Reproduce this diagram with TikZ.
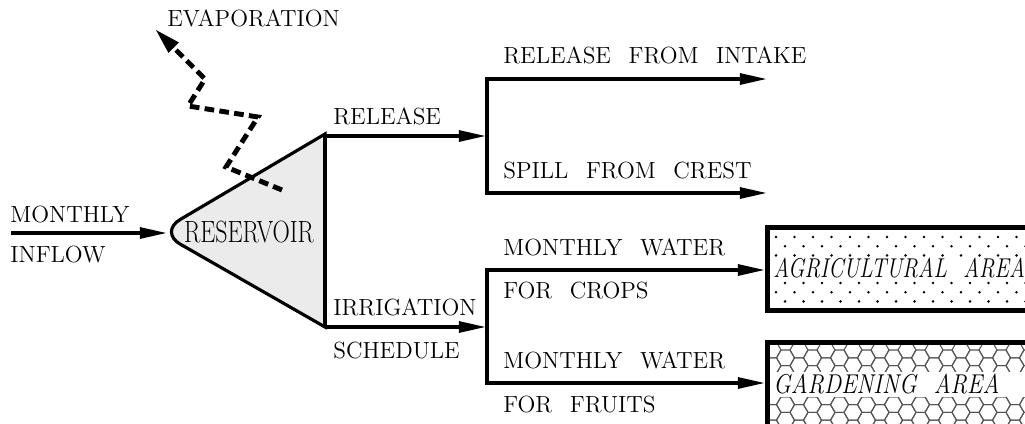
\documentclass[tikz,border=0pt]{standalone}
\usepackage{tikz}
\usetikzlibrary{arrows.meta}
\definecolor{resFill}{RGB}{235,235,235}
\definecolor{hexGray}{RGB}{85,85,85}
\newcommand{\wgap}{\hspace{0.75em}}

\begin{document}
\begin{tikzpicture}[x=0.02cm,y=-0.02cm,
  flow/.style={line width=2.4pt,-{Triangle[length=16pt,width=6pt]}},
  fork/.style={line width=2.4pt,{Triangle[length=16pt,width=6pt]}-{Triangle[length=16pt,width=6pt]}},
  vapor/.style={line width=2.8pt,dash pattern=on 5.5pt off 3pt,-{Triangle[length=15pt,width=7.5pt]}},
  lbl/.style={anchor=base west,inner sep=0pt,font=\fontsize{13.3}{16}\selectfont},
  area/.style={anchor=base west,inner sep=0pt,font=\fontsize{15.5}{18}\selectfont\itshape},
  areabox/.style={line width=2.8pt,fill=white}]
\useasboundingbox (0,0) rectangle (1025,423);
\clip (0,0) rectangle (1025,423);

% reservoir
\coordinate (resTop) at (325,134);
\coordinate (resBot) at (325,327);
\coordinate (resTip) at (159,232);
\coordinate (resWest) at (168,233);
\filldraw[fill=resFill,line width=1.8pt] (resTop) [rounded corners=14pt] -- (resTip) [sharp corners] -- (resBot) -- cycle;
\draw[line width=2.4pt] (resTop) -- (resBot);
\node[anchor=base,inner sep=0pt,font=\fontsize{17.5}{20}\selectfont] (resLbl) at (249,242) {\scalebox{0.78}[1]{RESERVOIR}};

% inflow
\coordinate (inStart) at (11,233);
\draw[flow] (inStart) -- (resWest);
\node[lbl] (inflowTop) at (10,222) {MONTHLY};
\node[lbl] (inflowBot) at (10,262) {INFLOW};

% evaporation
\coordinate (evapStart) at (282,190);
\coordinate (evapTip) at (155,29);
\draw[vapor] (evapStart) -- (226,167) -- (258,117) -- (188,106) -- (205,79) -- (evapTip);
\node[lbl] (evapLbl) at (167,26) {EVAPORATION};

% release branch
\coordinate (relJoin) at (487,136);
\coordinate (relUp) at (487,79);
\coordinate (relDn) at (487,193);
\coordinate (intakeEnd) at (768,79);
\coordinate (crestEnd) at (768,193);
\draw[flow] (resTop |- relJoin) -- (relJoin);
\draw[fork] (intakeEnd) -- (relUp) -- (relDn) -- (crestEnd);
\node[lbl] (relLbl) at (333,124) {RELEASE};
\node[lbl] (intakeLbl) at (503,63) {RELEASE\wgap FROM\wgap INTAKE};
\node[lbl] (crestLbl) at (503,178) {SPILL\wgap FROM\wgap CREST};

% irrigation branch
\coordinate (irrJoin) at (487,327);
\coordinate (irrUp) at (487,270);
\coordinate (irrDn) at (487,383);
\coordinate (agriIn) at (766,270);
\coordinate (gardIn) at (766,383);
\draw[flow] (resBot) -- (irrJoin);
\draw[fork] (agriIn) -- (irrUp) -- (irrDn) -- (gardIn);
\node[lbl] (irrLbl) at (333,315) {IRRIGATION};
\node[lbl] (schedLbl) at (333,358) {SCHEDULE};
\node[lbl] (cropsTop) at (503,255) {MONTHLY\wgap WATER};
\node[lbl] (cropsBot) at (503,298) {FOR\wgap CROPS};
\node[lbl] (fruitsTop) at (503,368) {MONTHLY\wgap WATER};
\node[lbl] (fruitsBot) at (503,412) {FOR\wgap FRUITS};

% agricultural area
\draw[areabox] (767.5,227.5) rectangle (1045,310.5);
\foreach \r in {0,1,2,5,6,7}{
  \pgfmathsetmacro{\yy}{237+9.2*\r}
  \pgfmathsetmacro{\xo}{mod(\r,2)*9}
  \foreach \c in {0,...,14}{
    \fill (785+\xo-9+18.5*\c,\yy) circle (0.8pt);
  }
}
\node[area] (agriLbl) at (773,277) {\scalebox{0.8}[1]{AGRICULTURAL\wgap AREA}};

% gardening area
\draw[areabox] (767.5,342.5) rectangle (1045,450);
\begin{scope}
  \clip (770,345) rectangle (1040,430);
  \foreach \i in {0,...,21}{
    \foreach \j in {0,...,6}{
      \pgfmathsetmacro{\hx}{772+13.5*\i}
      \pgfmathsetmacro{\hy}{350+15.6*\j+mod(\i,2)*7.8}
      \draw[hexGray,line width=0.6pt] (\hx,\hy) ++(0:9) -- ++(120:9) -- ++(180:9) -- ++(240:9) -- ++(300:9) -- ++(0:9) -- cycle;
    }
  }
  \fill[white] (770,372) rectangle (1040,397);
\end{scope}
\node[area] (gardLbl) at (773,393) {\scalebox{0.85}[1]{GARDENING\wgap AREA}};
\end{tikzpicture}
\end{document}
